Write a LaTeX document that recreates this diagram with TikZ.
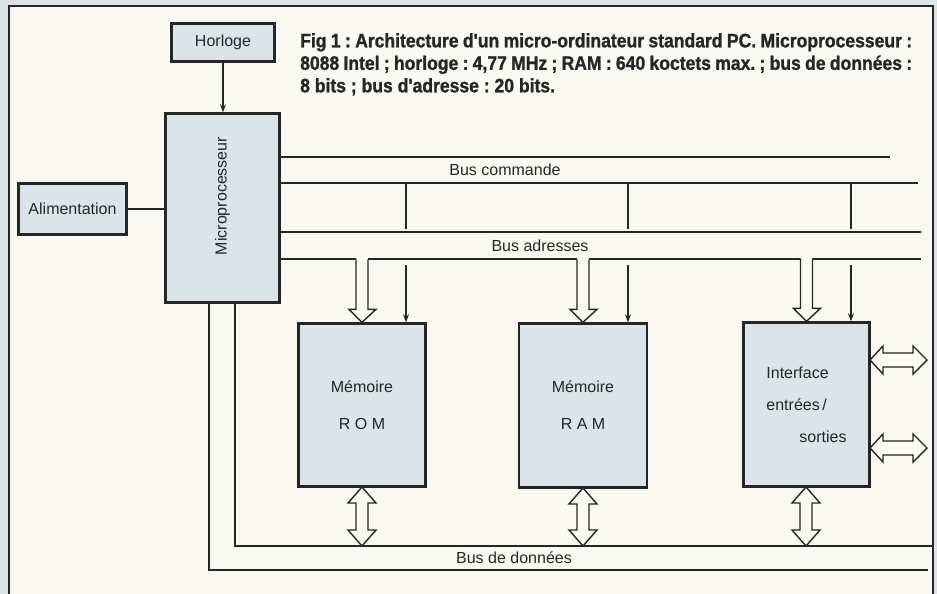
\documentclass[tikz,border=0pt]{standalone}
\usepackage{fontspec}
\setmainfont{Liberation Sans}
\newfontfamily\capfont{Liberation Sans Bold}[FakeStretch=0.9, FakeBold=1.2]
\usetikzlibrary{arrows.meta}

\definecolor{paper}{HTML}{FBFAF2}
\definecolor{backblue}{HTML}{DCE4E7}
\definecolor{boxblue}{HTML}{DAE4E9}
\definecolor{ink}{HTML}{262626}

% wide double arrows (x, top y, bottom y) and (y, left x, right x)
\newcommand{\vdblarrow}[3]{%
  \draw[widearrow] (#1,#2) -- ++(14,16) -- ++(-8,0) -- (#1+6,#3-16) -- ++(8,0) -- (#1,#3)
    -- ++(-14,-16) -- ++(8,0) -- (#1-6,#2+16) -- ++(-8,0) -- cycle;}
\newcommand{\hdblarrow}[3]{%
  \draw[widearrow] (#2,#1) -- ++(13,-14) -- ++(0,7) -- (#3-14,#1-7) -- ++(0,-7) -- (#3,#1)
    -- ++(-14,14) -- ++(0,-7) -- (#2+13,#1+7) -- ++(0,7) -- cycle;}

\tikzset{pics/addrdrop/.style={code={%
  \draw[widearrow] (-6,-63) -- (-6,-13) -- (-13,-13) -- (0,0) -- (14,-13) -- (6,-13) -- (6,-63);}}}

\frenchspacing

\begin{document}
\begin{tikzpicture}[x=1pt, y=-1pt,
    blk/.style={draw=ink, line width=2.4pt, fill=boxblue, inner sep=0pt, text=ink,
      font=\fontsize{16}{19}\selectfont},
    bus/.style={draw=ink, line width=1.4pt},
    widearrow/.style={draw=ink, line width=1.4pt, fill=paper, line join=miter},
    arr/.style={bus, -{Stealth[length=8pt, width=6pt]}},
    buslabel/.style={inner sep=0pt, text=ink, font=\fontsize{16}{19}\selectfont}]
  \clip (0,0) rectangle (937,594);

  % page and frame
  \fill[backblue] (0,0) rectangle (937,594);
  \fill[paper] (9,6) rectangle (933,600);
  \draw[ink, line width=2pt] (9,600) -- (9,6) -- (933,6) -- (933,600);

  % caption
  \node[anchor=north west, text width=612pt, align=justify, inner sep=0pt, text=ink,
    font=\capfont\fontsize{19.5}{22.5}\selectfont] (caption) at (300,33)
    {Fig 1 : Architecture d'un micro-ordinateur standard PC. Microprocesseur :\linebreak
     8088 Intel ; horloge : 4,77 MHz ; RAM : 640 koctets max. ; bus de données :\linebreak
     8 bits ; bus d'adresse : 20 bits.};

  % blocks
  \node[blk, minimum width=103pt, minimum height=38pt] (horloge) at (223,42.5) {Horloge};
  \node[blk, minimum width=114pt, minimum height=189pt] (cpu) at (222.5,208)
    {\rotatebox{90}{\hspace{24pt}Microprocesseur}};
  \node[blk, minimum width=108pt, minimum height=51pt] (alim) at (72.5,209) {Alimentation};
  \node[blk, minimum width=127pt, minimum height=163pt, align=center] (rom) at (362,405)
    {Mémoire\\[18pt]R O M};
  \node[blk, minimum width=128pt, minimum height=164pt, align=center] (ram) at (583,405.5)
    {Mémoire\\[18pt]R A M};
  \node[blk, minimum width=126pt, minimum height=164pt, align=left] (io) at (806.5,404.5)
    {Interface\\[13pt]entrées\,/\\[13pt]\hspace*{33pt}sorties};

  \draw[arr] (horloge.south) -- (horloge.south |- cpu.north);
  \draw[bus] (alim.east) -- (alim.east -| cpu.west);

  % bus commande
  \draw[bus] (cpu.east |- 0,157) -- (890,157);
  \draw[bus] (cpu.east |- 0,183) -- (918,183);
  \node[buslabel] (cmdlabel) at (505,170) {Bus commande};
  \foreach \x in {406,628,851}
    \draw[bus] (\x,183) -- (\x,229);
  \foreach \x/\b in {406/rom,628/ram,851/io}
    \draw[arr] (\x,265) -- (\x,0 |- \b.north);

  % bus adresses
  \draw[bus] (cpu.east |- 0,232) -- (921,232);
  \node[buslabel] (adrlabel) at (540,246) {Bus adresses};
  \draw[bus] (cpu.east |- 0,259) -- (356,259);
  \draw[bus] (368,259) -- (577,259);
  \draw[bus] (589,259) -- (800,259);
  \draw[bus] (812,259) -- (921,259);
  \pic at (rom.north) {addrdrop};
  \pic at (ram.north) {addrdrop};
  \pic at (io.north) {addrdrop};

  % bus de donnees
  \draw[bus] (cpu.south -| 235,0) -- (235,546) -- (932,546);
  \draw[bus] (cpu.south -| 209,0) -- (209,570) -- (928,570);
  \node[buslabel] (datlabel) at (514,558) {Bus de données};
  \vdblarrow{362}{487}{546}
  \vdblarrow{583}{488}{546}
  \vdblarrow{806}{487}{546}
  \hdblarrow{360}{870}{927}
  \hdblarrow{448}{870}{927}
\end{tikzpicture}
\end{document}
